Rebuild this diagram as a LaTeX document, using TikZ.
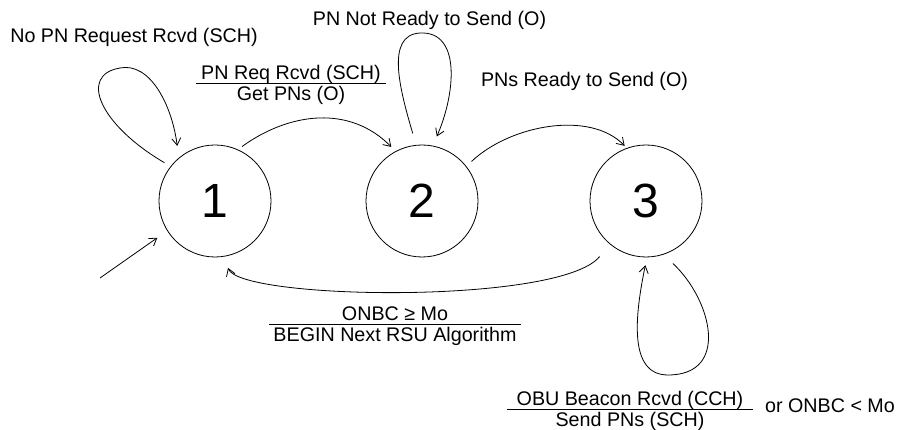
\documentclass[tikz,border=0pt]{standalone}
\usepackage{fontspec}
\setmainfont{Liberation Sans}
\usetikzlibrary{arrows.meta}
\setlength{\arrayrulewidth}{0.8pt}
% transition label: condition over action
\newcommand{\fracl}[3][5pt]{\begin{tabular}[t]{@{\hspace{#1}}c@{\hspace{#1}}}\smash{#2}\rule[-3pt]{0pt}{16pt}\\\hline\rule{0pt}{17pt}#3\end{tabular}}

\begin{document}
\begin{tikzpicture}[x=1pt,y=1pt,yscale=-1,
	state/.style={draw,circle,minimum size=112pt,inner sep=0pt,line width=0.8pt,font=\fontsize{48}{50}\selectfont},
	lbl/.style={inner sep=0pt,anchor=base,font=\fontsize{19.7}{10}\selectfont},
	trans/.style={line width=0.8pt,-{Straight Barb[length=7pt,width=9pt]}}]
	\useasboundingbox (0,0) rectangle (900,430);
	
	%Shape: Circle
	\node[state] (s1) at (215,201) {1};
	%Shape: Circle
	\node[state] (s2) at (422,201) {2};
	%Shape: Circle
	\node[state] (s3) at (646,201) {3};
	\coordinate (init) at (100,278);
	
	%Straight Lines
	\draw[trans,shorten >=12pt] (init) -- (s1.212);
	%Curve Lines
	\draw[trans,shorten <=7pt,shorten >=12pt] (s1.142) .. controls (100,125) and (78,75) .. (120,68) .. controls (150,62) and (172,105) .. (s1.130);
	%Curve Lines
	\draw[trans,shorten <=5pt,shorten >=6pt] (s1.66) .. controls (290,112) and (350,105) .. (s2.118);
	%Curve Lines
	\draw[trans,shorten <=12pt,shorten >=10pt] (s2.96) .. controls (400,90) and (385,35) .. (420,33) .. controls (462,31) and (455,95) .. (s2.79);
	%Curve Lines
	\draw[trans,shorten <=7pt,shorten >=3pt] (s2.38) .. controls (510,125) and (590,110) .. (s3.110);
	%Curve Lines
	\draw[trans,shorten <=16pt,shorten >=12pt] (s3.230) .. controls (560,305) and (240,300) .. (s1.279);
	%Curve Lines
	\draw[trans,shorten <=13pt,shorten >=8pt] (s3.288) .. controls (712,300) and (730,375) .. (668,375) .. controls (628,375) and (635,315) .. (s3.271);
	
	% Text Node
	\node[lbl] (noreq) at (134,43) {No PN Request Rcvd (SCH)};
	% Text Node
	\node[lbl] (notready) at (429.5,26) {PN Not Ready to Send (O)};
	% Text Node
	\node[lbl] (ready) at (584.5,87) {PNs Ready to Send (O)};
	% Text Node
	\node[lbl] (req) at (291,80) {\fracl[5pt]{PN Req Rcvd (SCH)}{Get PNs (O)}};
	% Text Node
	\node[lbl] (next) at (395,321) {\fracl[4pt]{ONBC ≥ Mo}{BEGIN Next RSU Algorithm}};
	% Text Node
	\node[lbl] (beacon) at (630,406) {\fracl[10pt]{OBU Beacon Rcvd (CCH)}{Send PNs (SCH)}};
	% Text Node
	\node[lbl] (orless) at (830,413) {or ONBC < Mo};
\end{tikzpicture}
\end{document}
